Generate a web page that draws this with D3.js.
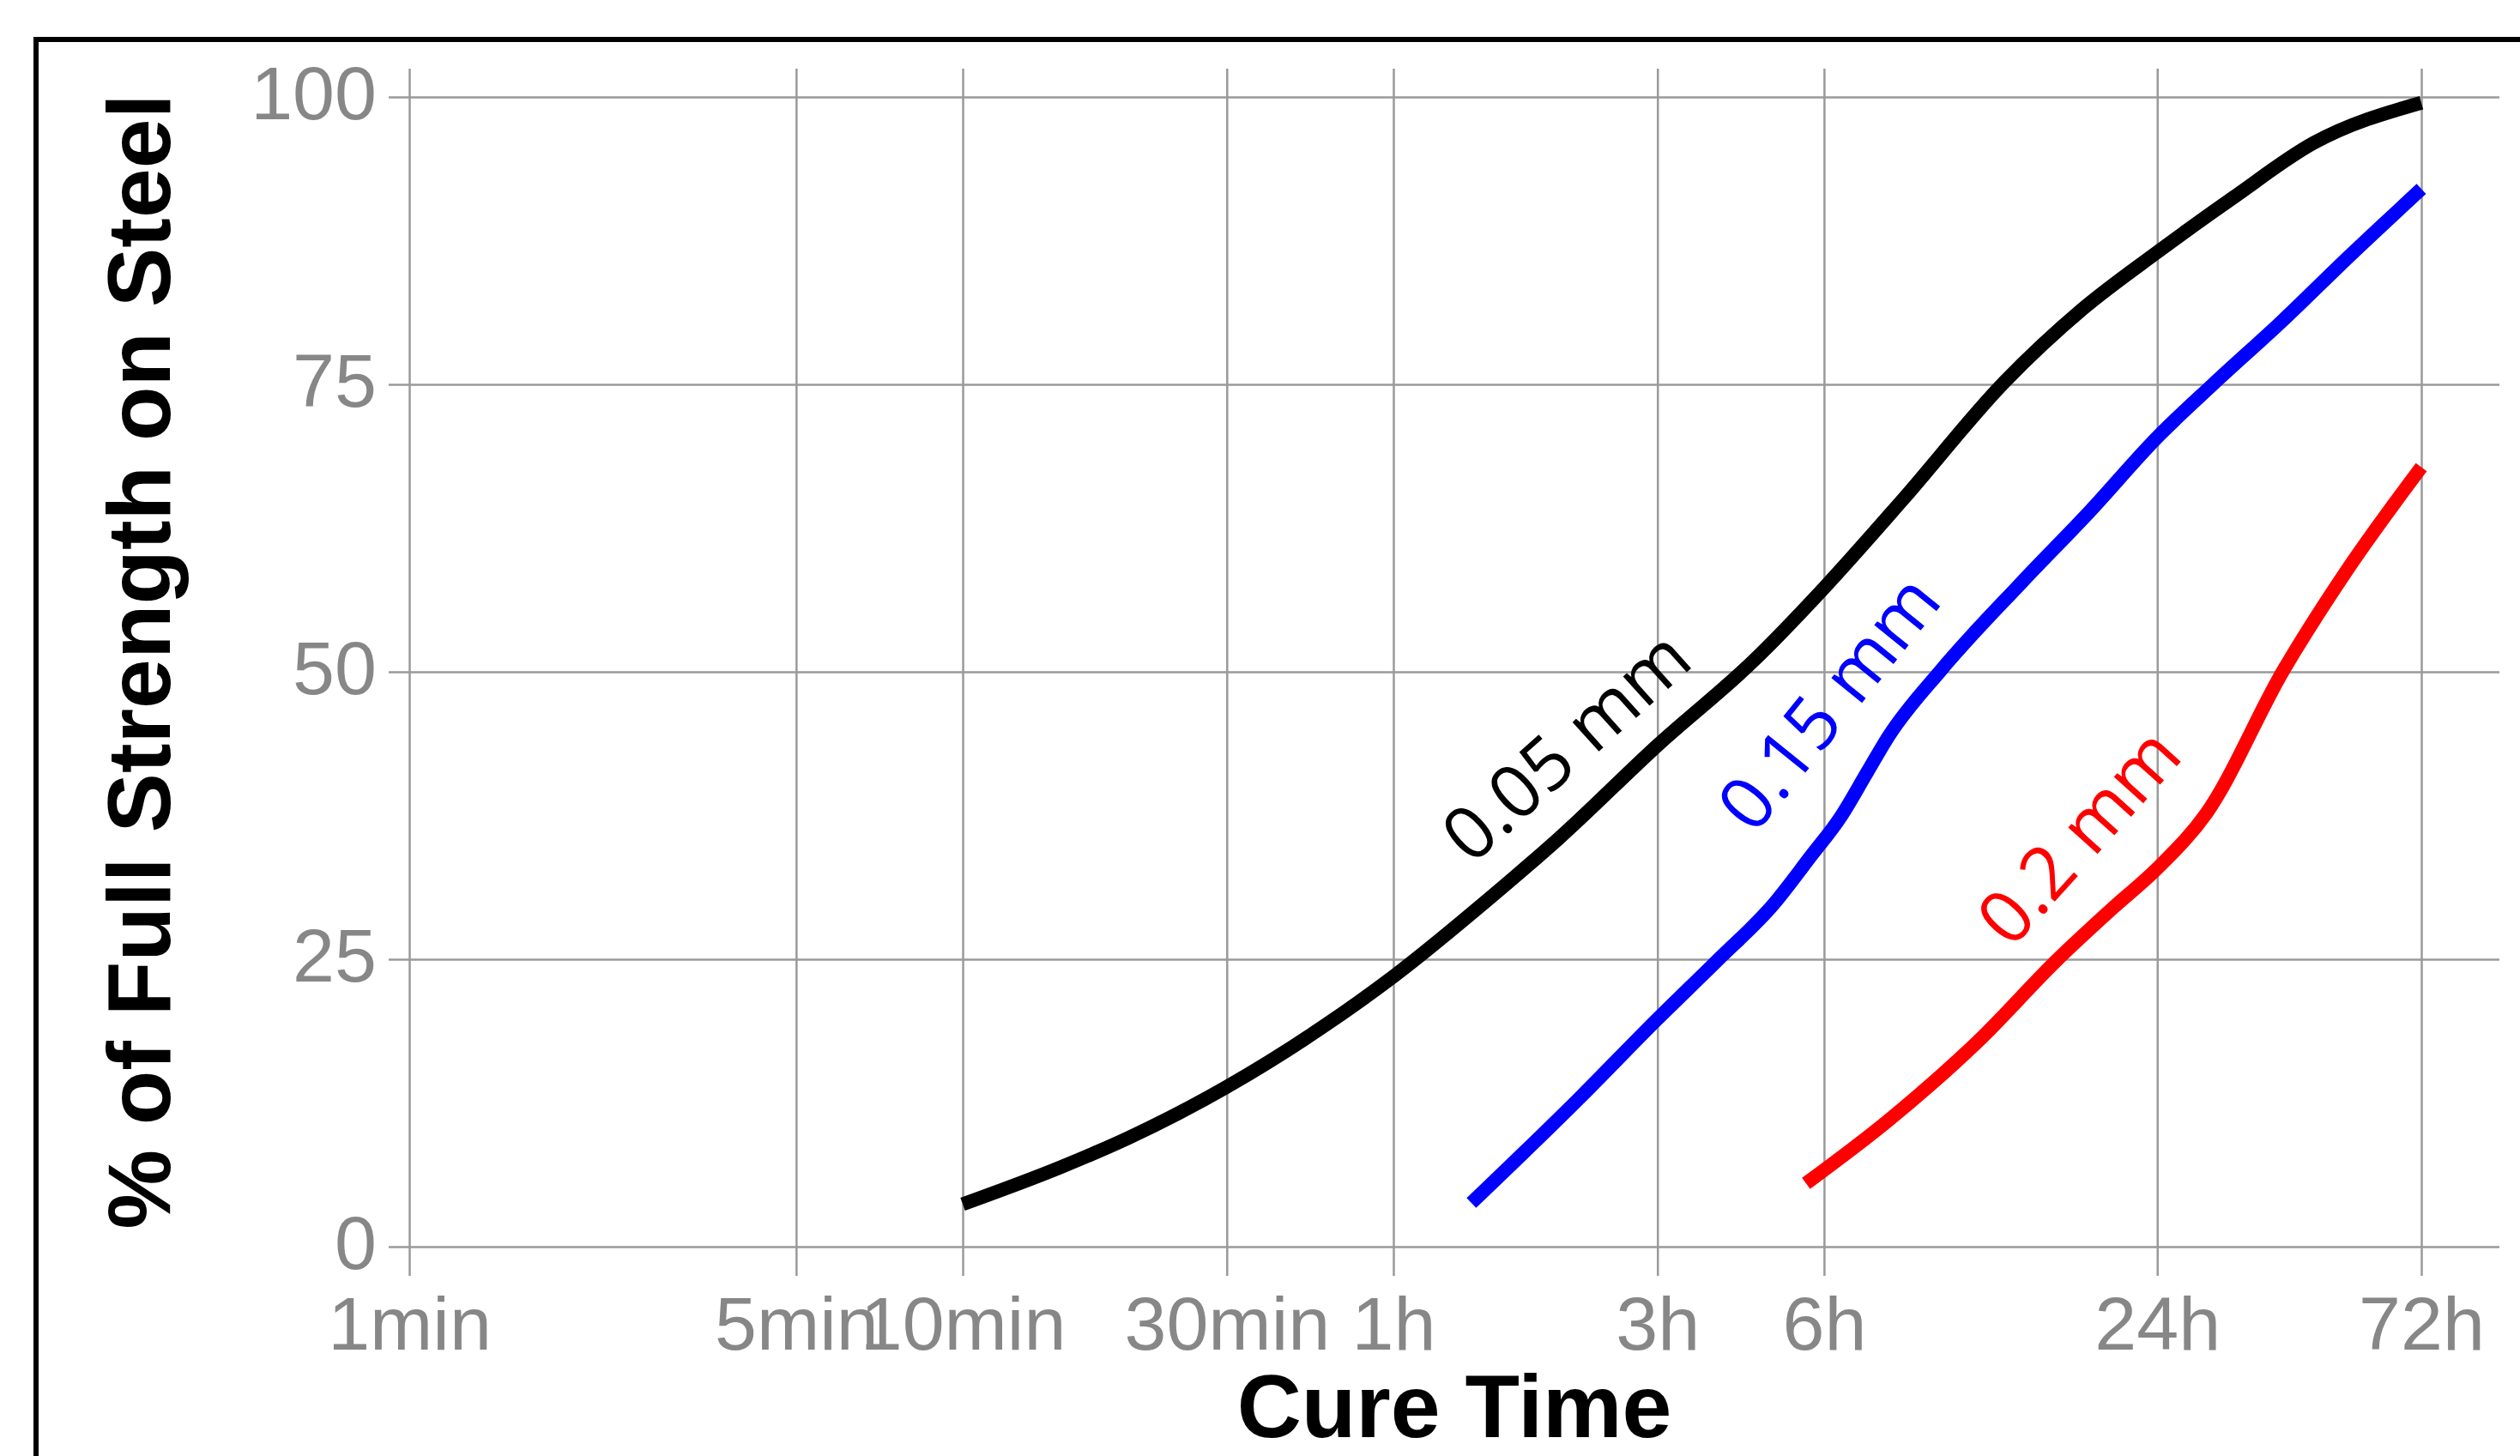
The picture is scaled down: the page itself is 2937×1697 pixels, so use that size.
<!DOCTYPE html>
<html>
<head>
<meta charset="utf-8">
<script src="https://cdn.jsdelivr.net/npm/d3@7"></script>
<style>
  html, body { margin: 0; padding: 0; background: #fff; }
</style>
</head>
<body>
<div id="chart"></div>
<script>
// x ticks (cure time in minutes) and their labels
var time_ticks = [1, 5, 10, 30, 60, 180, 360, 1440, 4320];
var time_labels = ['1min', '5min', '10min', '30min', '1h', '3h', '6h', '24h', '72h'];
var pct_ticks = [0, 25, 50, 75, 100];

// curves: minutes / % of full strength
var t_005 = [10, 15, 20, 30, 45, 60, 90, 120, 180, 269, 360, 500, 762, 1052, 1440, 1982, 2761, 4320];
var v_005 = [3.7, 6.9, 9.5, 13.9, 19.2, 23.5, 30.4, 35.6, 43.6, 51.0, 57.3, 65.0, 75.2, 81.5, 86.5, 91.3, 96.0, 99.5];
var t_015 = [83, 130, 180, 231, 292, 340, 386, 430, 471, 587, 820, 1085, 1440, 1815, 2432, 3177, 4320];
var v_015 = [3.8, 12.9, 19.8, 24.9, 29.8, 33.9, 37.4, 41.2, 44.4, 50.2, 57.8, 63.9, 70.4, 75.0, 80.6, 86.0, 92.0];
var t_02 = [334, 471, 681, 952, 1200, 1440, 1767, 2432, 3177, 4320];
var v_02 = [5.5, 11.0, 17.8, 25.0, 29.5, 32.9, 37.7, 50.1, 58.9, 67.8];

var series_names = ['0.05 mm', '0.15 mm', '0.2 mm'];
var series_colors = ['#000000', '#0000ff', '#ff0000'];
// label anchor (minutes, %) and rotation per series
var label_t = [83, 269, 784];
var label_v = [33.1, 35.7, 25.8];
var label_rot = [-42, -51, -48];

var width = 2937, height = 1697;

var svg = d3.select('#chart').append('svg')
    .attr('width', width).attr('height', height);

// outer frame (runs off the right and bottom edges)
svg.append('rect')
    .attr('x', 42).attr('y', 46)
    .attr('width', 3000).attr('height', 2000)
    .attr('fill', 'none').attr('stroke', '#000').attr('stroke-width', 6);

var x = d3.scaleLog().domain([1, 4320]).range([477, 2822]);
var y = d3.scaleLinear().domain([0, 100]).range([1453, 113]);

var grid_left = 453, grid_right = 2913, grid_top = 80, grid_bottom = 1487;

// vertical grid + x tick labels
var x_axis = svg.append('g')
    .attr('transform', 'translate(0,' + grid_bottom + ')')
    .call(d3.axisBottom(x)
        .tickValues(time_ticks)
        .tickFormat(function(d, i) { return time_labels[i]; })
        .tickSize(-(grid_bottom - grid_top)));

// horizontal grid + y tick labels
var y_axis = svg.append('g')
    .attr('transform', 'translate(' + grid_left + ',0)')
    .call(d3.axisLeft(y)
        .tickValues(pct_ticks)
        .tickSize(-(grid_right - grid_left)));

[x_axis, y_axis].forEach(function(ax) {
    ax.select('.domain').remove();
    ax.selectAll('.tick line').attr('stroke', '#9a9a9a').attr('stroke-width', 2.5);
    ax.selectAll('.tick text')
        .attr('fill', '#878787')
        .attr('font-family', 'Liberation Sans, Arial, sans-serif')
        .attr('font-size', 88);
});
x_axis.selectAll('.tick text').attr('dy', null).attr('y', 86);
y_axis.selectAll('.tick text').attr('dy', null).attr('x', -14).attr('y', 25);

// curves
var line = d3.line()
    .x(function(d) { return x(d[0]); })
    .y(function(d) { return y(d[1]); })
    .curve(d3.curveMonotoneX);

var series = [d3.zip(t_005, v_005), d3.zip(t_015, v_015), d3.zip(t_02, v_02)];

svg.append('g').selectAll('path')
    .data(series).enter().append('path')
    .attr('d', line)
    .attr('fill', 'none')
    .attr('stroke', function(d, i) { return series_colors[i]; })
    .attr('stroke-width', 16);

// curve labels
svg.append('g').selectAll('text')
    .data(series_names).enter().append('text')
    .attr('transform', function(d, i) {
        return 'translate(' + x(label_t[i]) + ',' + y(label_v[i]) + ') rotate(' + label_rot[i] + ')';
    })
    .attr('fill', function(d, i) { return series_colors[i]; })
    .attr('font-family', 'Open Sans, sans-serif')
    .attr('font-size', 86)
    .text(function(d) { return d; });

// axis titles
svg.append('text')
    .attr('x', 1695).attr('y', 1675)
    .attr('text-anchor', 'middle')
    .attr('font-family', 'Liberation Sans, Arial, sans-serif')
    .attr('font-weight', 'bold')
    .attr('font-size', 104)
    .attr('fill', '#000')
    .text('Cure Time');

svg.append('text')
    .attr('transform', 'translate(198,771) rotate(-90)')
    .attr('text-anchor', 'middle')
    .attr('font-family', 'Liberation Sans, Arial, sans-serif')
    .attr('font-weight', 'bold')
    .attr('font-size', 104)
    .attr('fill', '#000')
    .text('% of Full Strength on Steel');
</script>
</body>
</html>
